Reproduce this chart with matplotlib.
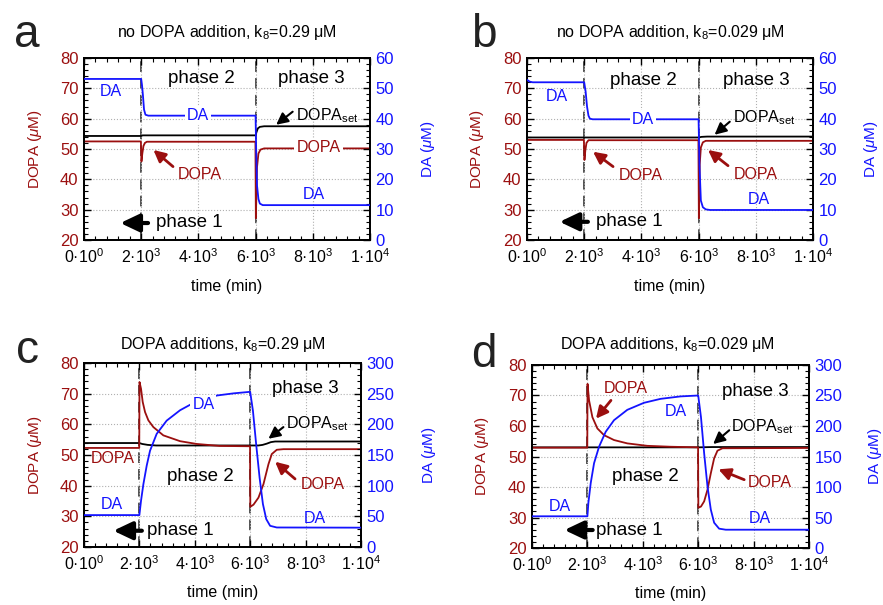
import matplotlib
matplotlib.use('Agg')
import matplotlib.pyplot as plt
from matplotlib.ticker import MultipleLocator, FixedLocator, FixedFormatter

plt.rcParams['font.family'] = ['Liberation Sans', 'DejaVu Sans']
plt.rcParams['mathtext.fontset'] = 'custom'
plt.rcParams['mathtext.rm'] = 'Liberation Sans'
plt.rcParams['mathtext.it'] = 'Liberation Sans:italic'
plt.rcParams['mathtext.bf'] = 'Liberation Sans:bold'

RED = '#9b0f0f'
BLUE = '#1414ff'

# ---- data (time in min, DOPA and DA in uM) ----
xticks = [0, 2000, 4000, 6000, 8000, 10000]
xticklabels = ['0·10$^0$', '2·10$^3$', '4·10$^3$', '6·10$^3$', '8·10$^3$', '1·10$^4$']

# panel a: no DOPA addition, k8=0.29
t_da_a = [0, 2000, 2030, 2060, 2100, 2150, 2250, 6000, 6020, 6050, 6100, 6150, 6250, 10000]
da_a = [53.1, 53.1, 51, 47.9, 43, 41.3, 41, 41, 30, 18, 13.5, 12, 11.5, 11.5]
t_dopa_a = [0, 1990, 2010, 2040, 2080, 2130, 2200, 5995, 6010, 6050, 6100, 6170, 6300, 10000]
dopa_a = [52.5, 52.5, 45.9, 48.5, 51, 52, 52.4, 52.4, 27.2, 44, 48.5, 49.8, 50.2, 50.2]
t_set_a = [0, 2000, 2050, 6000, 6030, 6080, 6150, 6300, 10000]
set_a = [54.3, 54.3, 54.5, 54.5, 55.5, 56.8, 57.3, 57.5, 57.5]

# panel b: no DOPA addition, k8=0.029
t_da_b = [0, 100, 200, 2000, 2050, 2100, 2150, 2200, 2300, 6000, 6030, 6080, 6150, 6250, 6400, 10000]
da_b = [52.8, 52.2, 52, 52, 49, 44, 41, 40, 39.8, 39.8, 25, 13, 10.8, 10.1, 9.9, 9.9]
t_dopa_b = [0, 1990, 2010, 2040, 2080, 2150, 5995, 6010, 6040, 6080, 6150, 6250, 10000]
dopa_b = [53.0, 53.0, 46.4, 49.5, 52, 52.9, 52.9, 27.2, 45, 50.5, 52.2, 52.7, 52.7]
t_set_b = [0, 6000, 6100, 6300, 10000]
set_b = [53.8, 53.8, 54.0, 54.1, 54.1]

# panel c: DOPA additions, k8=0.29
t_da_c = [0, 2000, 2060, 2145, 2265, 2385, 2625, 2985, 3470, 4000, 4800, 5400, 6000,
          6100, 6215, 6340, 6460, 6580, 6720, 6960, 10000]
da_c = [52, 52, 75.5, 102.5, 132.7, 157, 184.5, 206, 223, 236, 247, 250.5, 253,
        222, 168, 113, 70, 45.5, 34.5, 31.8, 31.5]
t_dopa_c = [0, 1995, 2005, 2060, 2120, 2205, 2325, 2505, 2865, 3470, 4070, 4900, 5995,
            6005, 6120, 6300, 6480, 6660, 6780, 6960, 7200, 10000]
dopa_c = [52.3, 52.3, 73.8, 71.6, 67.3, 64.0, 61.3, 59.1, 56.4, 54.5, 53.6, 52.95, 52.85,
          33.1, 33.8, 36.1, 40.5, 47, 50.3, 51.7, 51.9, 51.9]
t_set_c = [0, 2000, 2100, 2300, 2600, 6300, 6450, 6600, 6750, 6900, 10000]
set_c = [53.9, 53.9, 53.6, 53.3, 53.1, 53.1, 53.3, 53.7, 54.2, 54.4, 54.4]

# panel d: DOPA additions, k8=0.029
t_da_d = [0, 2000, 2035, 2120, 2240, 2420, 2660, 2960, 3440, 4040, 4640, 5360, 6000,
          6100, 6215, 6335, 6455, 6575, 6755, 6995, 10000]
da_d = [52, 52, 74, 106.5, 139, 166, 190.5, 209.5, 226.5, 238, 244.5, 248.5, 250,
        214.5, 155, 101, 63, 41.5, 31.7, 30, 30]
t_dopa_d = [0, 1995, 2005, 2060, 2180, 2360, 2600, 2960, 3440, 4160, 5000, 5995,
            6005, 6100, 6215, 6335, 6455, 6575, 6695, 6875, 10000]
dopa_d = [52.9, 52.9, 73.8, 68.4, 62.9, 59.2, 57, 55.4, 54.3, 53.5, 53.2, 53.0,
          33.2, 33.6, 35.3, 39.1, 44.5, 49.4, 51.9, 52.7, 52.8]
t_set_d = [0, 6000, 6500, 10000]
set_d = [53.0, 53.0, 53.1, 53.1]

fig = plt.figure(figsize=(8.83, 6.05), dpi=100)


def make_panel(rect, da_max, da_step, t_da, da, t_dopa, dopa, t_set, dset, ylab_l, ylab_r, xlab_y):
    ax = fig.add_axes(rect)
    ax2 = ax.twinx()
    ax.set_xlim(0, 10000)
    ax.set_ylim(20, 80)
    ax2.set_ylim(0, da_max)
    ax.xaxis.set_major_locator(FixedLocator(xticks))
    ax.xaxis.set_major_formatter(FixedFormatter(xticklabels))
    ax.xaxis.set_minor_locator(MultipleLocator(400))
    ax.yaxis.set_major_locator(MultipleLocator(10))
    ax.yaxis.set_minor_locator(MultipleLocator(2))
    ax2.yaxis.set_major_locator(MultipleLocator(da_step))
    ax2.yaxis.set_minor_locator(MultipleLocator(da_step / 5))
    ax.grid(True, which='major', ls=':', color='#b0b0b0', lw=0.8)
    ax.tick_params(which='both', direction='in', top=True, right=False)
    ax.tick_params(which='major', length=5, width=1)
    ax.tick_params(which='minor', length=3, width=0.8)
    ax.tick_params(axis='x', labelsize=11.5, pad=5)
    ax.tick_params(axis='y', labelsize=12, labelcolor=RED, pad=4)
    ax2.tick_params(which='both', direction='in', labelsize=12, labelcolor=BLUE, pad=4)
    ax2.tick_params(which='major', length=5, width=1)
    ax2.tick_params(which='minor', length=3, width=0.8)
    for sp in ax.spines.values():
        sp.set_linewidth(1.3)
    for sp in ax2.spines.values():
        sp.set_linewidth(1.3)
    for tx in (2000, 6000):
        ax.axvline(tx, color='#222222', lw=1.1, ls=(0, (7, 4)), zorder=1)
    ax.plot(t_set, dset, color='black', lw=1.3, zorder=3)
    ax.plot(t_dopa, dopa, color=RED, lw=1.3, zorder=4)
    ax2.plot(t_da, da, color=BLUE, lw=1.3, zorder=3)
    ax.set_xlabel('time (min)', fontsize=11.5)
    ax.set_ylabel(r'DOPA ($\mu$M)', color=RED, fontsize=11)
    ax2.set_ylabel(r'DA ($\mu$M)', color=BLUE, fontsize=11)
    ax.xaxis.set_label_coords(0.5, xlab_y)
    ax.yaxis.set_label_coords(ylab_l, 0.5)
    ax2.yaxis.set_label_coords(ylab_r, 0.5)
    return ax, ax2


def note(ax, ax2, x, y, s, color='black', size=11.5, box=False):
    kw = {}
    if box:
        kw['bbox'] = dict(fc='white', ec='none', pad=1.5)
    ax2.text(x, y, s, transform=ax.transData, color=color, fontsize=size,
             ha='center', va='center', zorder=6, **kw)


def arrow(ax, ax2, x0, y0, x1, y1, color='black', lw=1.5, hw=0.35, hl=0.7, ms=10):
    ax2.annotate('', xy=(x1, y1), xytext=(x0, y0), xycoords=ax.transData,
                 textcoords=ax.transData,
                 arrowprops=dict(arrowstyle='-|>,head_width=%g,head_length=%g' % (hw, hl),
                                 color=color, lw=lw, shrinkA=0, shrinkB=0,
                                 mutation_scale=ms), zorder=7)


def phase1_arrow(ax, ax2, x0, x1, y):
    arrow(ax, ax2, x0, y, x1, y, 'black', lw=3, hw=0.45, hl=0.95, ms=12)


SET = r'DOPA$_{\rm set}$'
PH = 13.5

# ---- a ----
ax, ax2 = make_panel([0.0951, 0.6033, 0.3239, 0.3008], 60, 10,
                     t_da_a, da_a, t_dopa_a, dopa_a, t_set_a, set_a, -0.14, 1.171, -0.212)
note(ax, ax2, 4110, 73.1, 'phase 2', size=PH)
note(ax, ax2, 7940, 73.1, 'phase 3', size=PH)
note(ax, ax2, 3670, 25.8, 'phase 1', size=PH)
note(ax, ax2, 925, 68.9, 'DA', BLUE)
note(ax, ax2, 3990, 61.0, 'DA', BLUE, box=True)
note(ax, ax2, 8050, 35.1, 'DA', BLUE)
note(ax, ax2, 4050, 41.5, 'DOPA', RED)
arrow(ax, ax2, 3113, 44.2, 2428, 49.7, RED, lw=2)
note(ax, ax2, 8200, 50.4, 'DOPA', RED, box=True)
note(ax, ax2, 8500, 60.9, SET)
arrow(ax, ax2, 7297, 62.3, 6720, 58.0, 'black', lw=1.5)
phase1_arrow(ax, ax2, 2240, 1270, 25.6)

# ---- b ----
ax, ax2 = make_panel([0.5968, 0.6033, 0.3239, 0.3008], 60, 10,
                     t_da_b, da_b, t_dopa_b, dopa_b, t_set_b, set_b, -0.144, 1.171, -0.212)
note(ax, ax2, 4080, 72.5, 'phase 2', size=PH)
note(ax, ax2, 8020, 72.5, 'phase 3', size=PH)
note(ax, ax2, 3580, 26.2, 'phase 1', size=PH)
note(ax, ax2, 1030, 67.3, 'DA', BLUE)
note(ax, ax2, 4060, 59.6, 'DA', BLUE, box=True)
note(ax, ax2, 8110, 33.2, 'DA', BLUE)
note(ax, ax2, 3980, 41.2, 'DOPA', RED)
arrow(ax, ax2, 3010, 44.2, 2310, 49.1, RED, lw=2)
note(ax, ax2, 7990, 41.7, 'DOPA', RED)
arrow(ax, ax2, 7030, 44.5, 6330, 49.7, RED, lw=2)
note(ax, ax2, 8300, 60.4, SET)
arrow(ax, ax2, 7090, 59.0, 6560, 54.7, 'black', lw=1.5)
phase1_arrow(ax, ax2, 2130, 1140, 26.0)

# ---- c ----
ax, ax2 = make_panel([0.0951, 0.0959, 0.3137, 0.3041], 300, 50,
                     t_da_c, da_c, t_dopa_c, dopa_c, t_set_c, set_c, -0.145, 1.213, -0.205)
note(ax, ax2, 1040, 48.7, 'DOPA', RED)
note(ax, ax2, 1000, 33.8, 'DA', BLUE)
note(ax, ax2, 4310, 66.5, 'DA', BLUE, box=True)
note(ax, ax2, 8340, 29.4, 'DA', BLUE)
note(ax, ax2, 4190, 42.9, 'phase 2', size=PH)
note(ax, ax2, 7980, 71.6, 'phase 3', size=PH)
note(ax, ax2, 3460, 25.3, 'phase 1', size=PH)
note(ax, ax2, 8620, 40.3, 'DOPA', RED)
arrow(ax, ax2, 7620, 42.2, 6900, 47.8, RED, lw=2)
note(ax, ax2, 8430, 60.2, SET)
arrow(ax, ax2, 7200, 59.1, 6660, 55.3, 'black', lw=1.5)
phase1_arrow(ax, ax2, 2090, 1060, 25.3)

# ---- d ----
ax, ax2 = make_panel([0.6025, 0.0942, 0.3137, 0.3025], 300, 50,
                     t_da_d, da_d, t_dopa_d, dopa_d, t_set_d, set_d, -0.149, 1.205, -0.205)
note(ax, ax2, 3390, 72.2, 'DOPA', RED)
arrow(ax, ax2, 2850, 68.4, 2310, 62.4, RED, lw=2)
note(ax, ax2, 5200, 64.6, 'DA', BLUE)
note(ax, ax2, 8050, 71.4, 'phase 3', size=PH)
note(ax, ax2, 4080, 43.4, 'phase 2', size=PH)
note(ax, ax2, 3520, 25.9, 'phase 1', size=PH)
note(ax, ax2, 8320, 59.9, SET)
arrow(ax, ax2, 7120, 58.6, 6540, 54.1, 'black', lw=1.5)
note(ax, ax2, 8590, 41.5, 'DOPA', RED)
arrow(ax, ax2, 7660, 42.4, 6730, 45.8, RED, lw=2)
note(ax, ax2, 990, 33.5, 'DA', BLUE)
note(ax, ax2, 8220, 29.7, 'DA', BLUE)
phase1_arrow(ax, ax2, 2190, 1170, 25.9)

# titles and panel letters
fig.text(227 / 883, 1 - 33 / 605, 'no DOPA addition, k$_8$=0.29 μM', ha='center', va='center', fontsize=11.5)
fig.text(670 / 883, 1 - 33 / 605, 'no DOPA addition, k$_8$=0.029 μM', ha='center', va='center', fontsize=11.5)
fig.text(223 / 883, 1 - 345 / 605, 'DOPA additions, k$_8$=0.29 μM', ha='center', va='center', fontsize=11.5)
fig.text(667 / 883, 1 - 344 / 605, 'DOPA additions, k$_8$=0.029 μM', ha='center', va='center', fontsize=11.5)
for lx, ly, s in [(14, 47, 'a'), (471, 47, 'b'), (16, 363, 'c'), (471, 367, 'd')]:
    fig.text(lx / 883, 1 - ly / 605, s, ha='left', va='baseline', fontsize=33, color='#222222')

fig.savefig('out.png', dpi=100)
